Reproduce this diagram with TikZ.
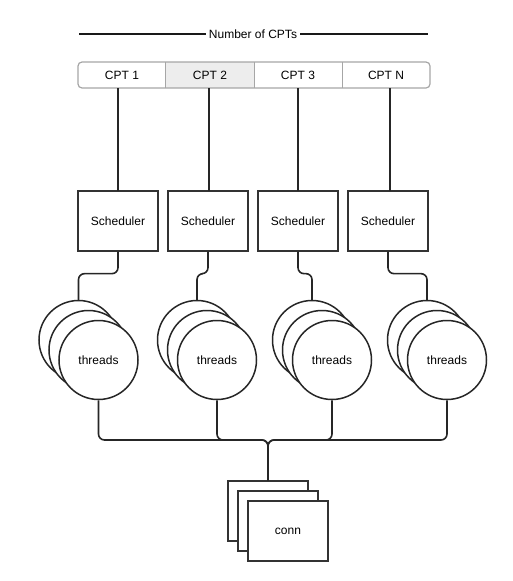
\documentclass[tikz,border=0pt]{standalone}
\usepackage{fontspec}
\setmainfont{Liberation Sans}
\begin{document}
\begin{tikzpicture}[x=1pt,y=-1pt,
  lbl/.style={font=\fontsize{12}{14}\selectfont},
  cpt/.style={minimum width=88pt, minimum height=26pt, inner sep=0pt, lbl},
  sched/.style={draw=black!80, line width=1.3pt, fill=white, minimum width=80pt, minimum height=60pt, inner sep=0pt, lbl},
  thr/.style={draw=black!85, line width=1.5pt, fill=white, circle, minimum size=79pt, inner sep=0pt, lbl},
  connbox/.style={draw=black!80, line width=1.5pt, fill=white, minimum width=80pt, minimum height=60pt, inner sep=0pt, lbl},
  wire/.style={draw=black!85, line width=1.6pt, rounded corners=6pt},
  divider/.style={draw=black!35, line width=1.2pt}
]
\useasboundingbox (0,0) rectangle (512,581);
% header
\coordinate (hl) at (79,34);
\coordinate (hr) at (428,34);
\draw[line width=1.3pt, black!90] (hl) -- (hr);
\node[lbl, fill=white, inner xsep=3pt] (hdr) at (253,34.5) {Number of CPTs};
% CPT bar
\node[cpt, fill=black!7] (c2) at (210,75) {};
\node[cpt] (c1) at (122,75.5) {CPT 1};
\node[cpt] (c2t) at (210,75.5) {CPT 2};
\node[cpt] (c3) at (298,75.5) {CPT 3};
\node[cpt] (c4) at (386,75.5) {CPT N};
\draw[divider] (c2.north west) -- (c2.south west);
\draw[divider] (c2.north east) -- (c2.south east);
\draw[divider] (c3.north east |- c2.north) -- (c3.south east |- c2.south);
\draw[black!35, line width=1.2pt, rounded corners=4pt] (78,62) rectangle (430,88);
% schedulers
\node[sched] (s1) at (118,221) {Scheduler};
\node[sched] (s2) at (208,221) {Scheduler};
\node[sched] (s3) at (298,221) {Scheduler};
\node[sched] (s4) at (388,221) {Scheduler};
\foreach \i/\x in {1/118,2/209,3/298,4/390}{
  \draw[wire] (\x,88) -- (\x,191);
}
% threads
\foreach \i/\x in {1/98.5,2/217,3/332,4/447}{
  \node[thr] (tb\i) at (\x-20,340) {};
  \node[thr] (tm\i) at (\x-10,350) {};
  \node[thr] (t\i) at (\x,360) {threads};
}
\draw[wire] (s1.south) -- ++(0,22) -| (tb1.north);
\draw[wire] (s2.south) -- ++(0,22) -| (tb2.north);
\draw[wire] (s3.south) -- ++(0,22) -| (tb3.north);
\draw[wire] (s4.south) -- ++(0,22) -| (tb4.north);
% conn
\node[connbox] (cb) at (268,511) {};
\node[connbox] (cm) at (278,521) {};
\node[connbox] (cf) at (288,531) {conn};
\foreach \i in {1,2,3,4}{
  \draw[wire] (t\i.south) |- (268,440) -- (cb.north);
}
\end{tikzpicture}
\end{document}
